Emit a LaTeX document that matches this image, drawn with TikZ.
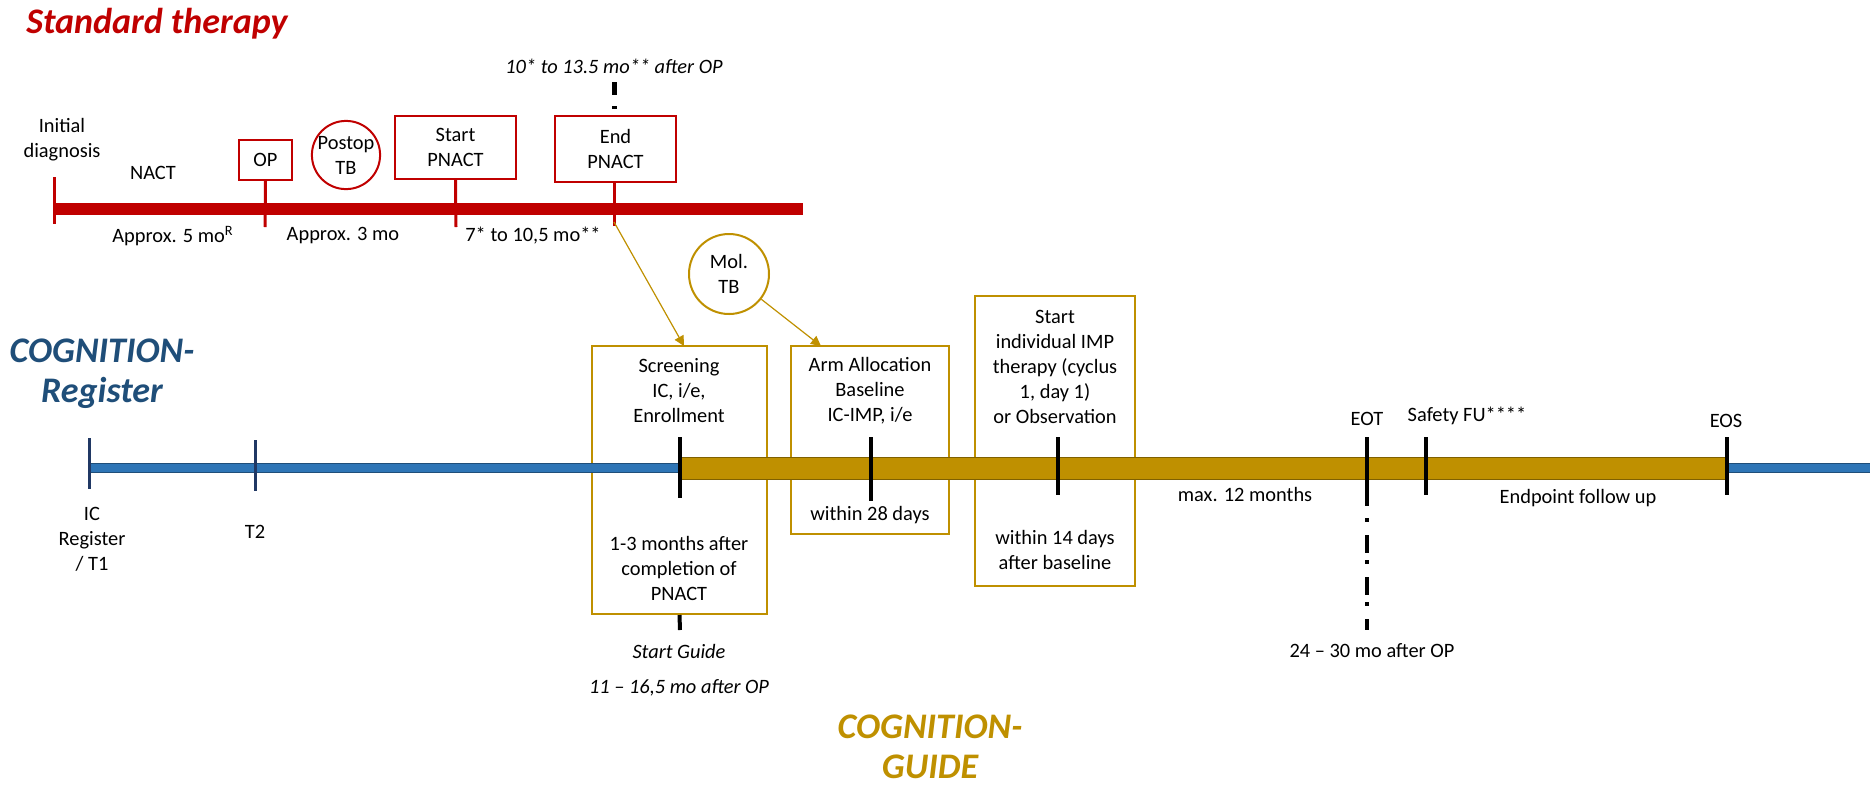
\documentclass[tikz,border=0pt]{standalone}
\usepackage{fontspec}
\setmainfont{Carlito}
\usetikzlibrary{positioning, arrows.meta, calc}

\definecolor{therapyred}{HTML}{C00000}
\definecolor{registerblue}{HTML}{2E75B6}
\definecolor{registerdark}{HTML}{1F4E79}
\definecolor{tickblue}{HTML}{203864}
\definecolor{guidegold}{HTML}{BF9000}
\definecolor{guidedark}{HTML}{7F6000}

\tikzset{
    txt/.style={font=\fontsize{10.2}{12.5}\selectfont, align=center, inner sep=0pt},
    ittxt/.style={txt, font=\fontsize{10.2}{12.5}\selectfont\itshape},
    title/.style={font=\fontsize{18}{20}\selectfont\bfseries\itshape, align=center, inner sep=0pt},
    redbox/.style={draw=therapyred, line width=1pt, txt},
    redcircle/.style={circle, draw=therapyred, line width=1pt, txt},
    goldbox/.style={draw=guidegold, line width=1pt, inner sep=0pt},
    goldcircle/.style={circle, draw=guidegold, line width=1pt, txt},
    redtick/.style={therapyred, line width=1.5pt},
    bluetick/.style={tickblue, line width=1.5pt},
    blacktick/.style={black, line width=2pt},
    goldarrow/.style={guidegold, line width=0.6pt, -{Triangle[length=5pt,width=5pt]}}
}

\begin{document}
\begin{tikzpicture}[x=0.5pt, y=-0.5pt]
    \useasboundingbox (0,0) rectangle (1870,789);

    % titles
    \node[title, text=therapyred, anchor=west] (stdtitle) at (26,24) {Standard therapy};
    \node[title, text=registerdark] (regtitle) at (102,374) {COGNITION-\\Register};
    \node[title, text=guidegold] (guidetitle) at (930,747) {COGNITION-\\GUIDE};

    % standard therapy boxes
    \node[redbox, minimum width=26.5pt, minimum height=20pt] (op) at (265.5,160) {OP};
    \node[redcircle, minimum size=31pt] (postop) at (346,155) {Postop\\TB};
    \node[redbox, minimum width=60.5pt, minimum height=31.5pt] (startpnact) at (455.5,147.5) {Start\\PNACT};
    \node[redbox, minimum width=60.5pt, minimum height=33pt] (endpnact) at (615.5,149) {End\\PNACT};

    % standard therapy line
    \draw[therapyred, line width=6pt] (54,209) -- (803,209);
    \draw[redtick] (54,177) -- (54,224);
    \draw[redtick] (op.south) -- (265,227);
    \draw[redtick] (startpnact.south) -- (456,227);
    \draw[redtick] (endpnact.south -| 614,0) -- (614,226);
    \draw[black, line width=2.5pt, dash pattern=on 6.5pt off 5.5pt on 1.5pt off 5pt] (614,82) -- (614,110);

    \node[txt] (initial) at (62,140) {Initial\\diagnosis};
    \node[txt] (nact) at (153,173) {NACT};
    \node[txt] (approxfive) at (173,236) {Approx. 5 mo\textsuperscript{R}};
    \node[txt] (approxthree) at (343,236) {Approx. 3 mo};
    \node[txt] (pnactdur) at (533,236) {7* to 10,5 mo**};
    \node[ittxt] (afterop) at (614,66) {10* to 13.5 mo** after OP};

    % guide boxes
    \node[goldbox, minimum width=87.5pt, minimum height=134pt] (screen) at (679.5,480) {};
    \node[goldbox, minimum width=79pt, minimum height=94pt] (arm) at (870,440) {};
    \node[goldbox, minimum width=80pt, minimum height=145pt] (imp) at (1055,441) {};
    \node[goldcircle, minimum size=40pt] (moltb) at (729,274) {Mol.\\TB};

    % register line and guide bar
    \draw[registerdark, fill=registerblue, line width=0.5pt] (89,463) rectangle (1872,472);
    \draw[guidedark, fill=guidegold, line width=0.5pt] (680,457) rectangle (1727,479);

    \draw[bluetick] (89,438) -- (89,489);
    \draw[bluetick] (255,440) -- (255,491);

    \foreach \tx/\ty in {680/498, 871/501, 1058/495, 1367/506, 1426/495, 1727/495}
    {
        \draw[blacktick] (\tx,437) -- (\tx,\ty);
    }
    \draw[blacktick] (screen.south) -- (680,630);
    \draw[black, line width=2pt, dash pattern=on 2pt off 6.5pt on 9pt off 3.5pt] (1367,518) -- (1367,630);

    % arrows
    \coordinate (endtick) at (614,222);
    \coordinate (screenin) at (684,346);
    \coordinate (armin) at (821,346);
    \draw[goldarrow] (endtick) -- (screenin);
    \draw[goldarrow] (moltb.-38) -- (armin);

    % register labels
    \node[txt] (icreg) at (92,539) {IC\\Register\\/ T1};
    \node[txt] (ttwo) at (255,532) {T2};

    % guide labels
    \node[txt] (screentop) at (679,391) {Screening\\IC, i/e,\\Enrollment};
    \node[txt] (screenbot) at (679,568) {1-3 months after\\completion of\\PNACT};
    \node[ittxt] (startguide) at (679,651) {Start Guide};
    \node[ittxt] (guideop) at (679,688) {11 -- 16,5 mo after OP};
    \node[txt] (armtop) at (870,391) {Arm Allocation\\Baseline\\IC-IMP, i/e};
    \node[txt] (armbot) at (870,515) {within 28 days};
    \node[txt] (imptop) at (1055,367) {Start\\individual IMP\\therapy (cyclus\\1, day 1)\\or Observation};
    \node[txt] (impbot) at (1055,550) {within 14 days\\after baseline};
    \node[txt] (maxtwelve) at (1245,494) {max. 12 months};
    \node[txt] (eot) at (1367,419) {EOT};
    \node[txt] (safety) at (1467,416) {Safety FU****};
    \node[txt] (eos) at (1726,421) {EOS};
    \node[txt] (endpoint) at (1578,498) {Endpoint follow up};
    \node[txt] (eotop) at (1372,651) {24 -- 30 mo after OP};
\end{tikzpicture}
\end{document}
